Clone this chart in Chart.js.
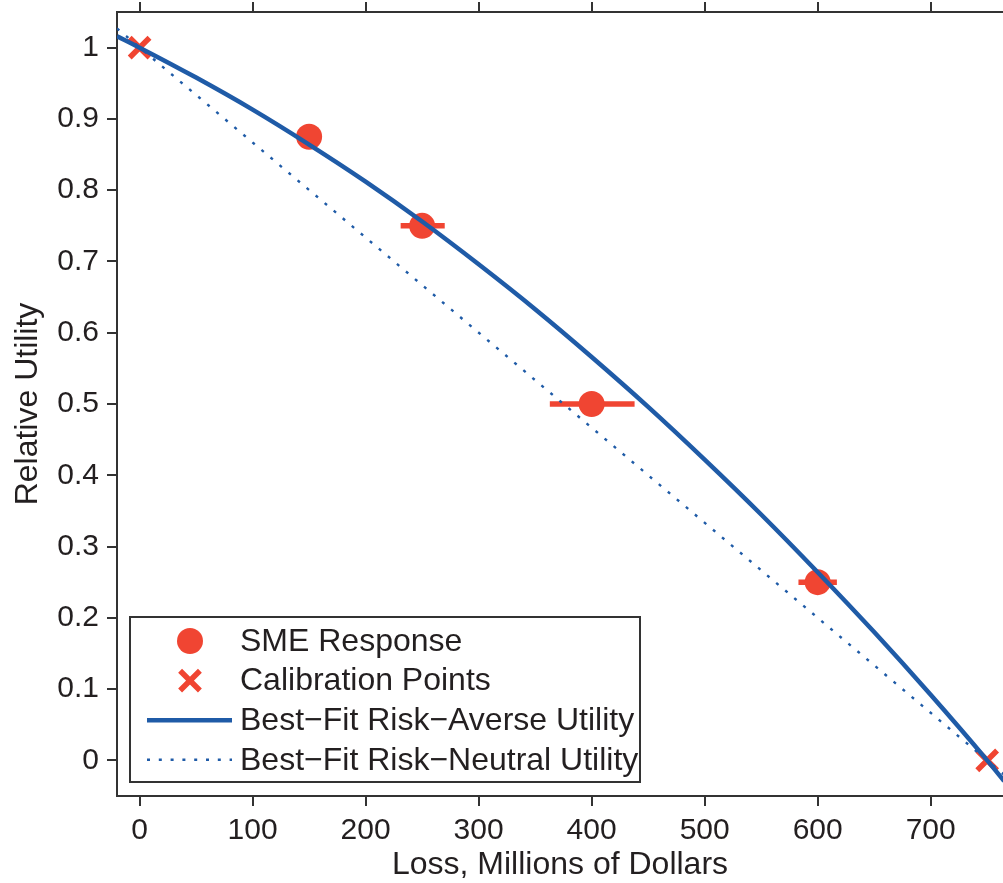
<!DOCTYPE html>
<html>
<head>
<meta charset="utf-8">
<script src="https://cdn.jsdelivr.net/npm/chart.js@4/dist/chart.umd.min.js"></script>
<style>
  html, body { margin: 0; padding: 0; background: #fff; }
  canvas { display: block; }
</style>
</head>
<body>
<canvas id="chart" width="1003" height="883"></canvas>
<script>
// values
const smeX = [150, 250, 400, 600];
const smeY = [0.875, 0.75, 0.5, 0.25];
const smeLow = [143, 231, 363, 583];
const smeHigh = [157, 270, 438, 617];

const calX = [0, 750];
const calY = [1, 0];

const averseX = [-20, 0, 50, 100, 150, 200, 250, 300, 350, 400, 450, 500, 550, 600, 650, 700, 750, 765];
const averseY = [1.016, 1.0, 0.958, 0.913, 0.864, 0.812, 0.756, 0.696, 0.633, 0.566, 0.496, 0.422, 0.345, 0.264, 0.18, 0.092, 0.0, -0.029];

const neutralX = [-20, 765];
const neutralY = [1.027, -0.02];

const xTicks = [0, 100, 200, 300, 400, 500, 600, 700];
const xTickLabels = ['0', '100', '200', '300', '400', '500', '600', '700'];
const yTicks = [0, 0.1, 0.2, 0.3, 0.4, 0.5, 0.6, 0.7, 0.8, 0.9, 1];
const yTickLabels = ['0', '0.1', '0.2', '0.3', '0.4', '0.5', '0.6', '0.7', '0.8', '0.9', '1'];

const labels = ['SME Response', 'Calibration Points', 'Best\u2212Fit Risk\u2212Averse Utility', 'Best\u2212Fit Risk\u2212Neutral Utility'];

const RED = '#f04532';
const BLUE = '#1f5ba7';
const INK = '#231f20';
const AXIS = '#333333';
const FONT = "'Liberation Sans', Arial, Helvetica, sans-serif";

const pts = (xs, ys) => xs.map((x, i) => ({ x: x, y: ys[i] }));

// fixed axis boxes, no label overflow padding
const fixSize = (w, h) => s => {
  if (w !== null) s.width = w;
  if (h !== null) s.height = h;
  s.paddingLeft = s.paddingRight = s.paddingTop = s.paddingBottom = 0;
};

const errorBars = {
  id: 'errorBars',
  beforeDatasetsDraw(chart) {
    const ctx = chart.ctx;
    const xs = chart.scales.x, ys = chart.scales.y;
    ctx.save();
    ctx.strokeStyle = RED;
    ctx.lineWidth = 5.5;
    smeX.forEach((x, i) => {
      const py = ys.getPixelForValue(smeY[i]);
      ctx.beginPath();
      ctx.moveTo(xs.getPixelForValue(smeLow[i]), py);
      ctx.lineTo(xs.getPixelForValue(smeHigh[i]), py);
      ctx.stroke();
    });
    ctx.restore();
  }
};

const boxLegend = {
  id: 'boxLegend',
  afterDraw(chart) {
    const ctx = chart.ctx;
    const area = chart.chartArea;
    const left = area.left + 13, right = left + 510;
    const bottom = area.bottom - 14, top = bottom - 165;
    ctx.save();
    ctx.fillStyle = '#fff';
    ctx.fillRect(left, top, right - left, bottom - top);
    ctx.strokeStyle = AXIS;
    ctx.lineWidth = 2;
    ctx.strokeRect(left, top, right - left, bottom - top);
    chart.data.datasets.forEach((ds, i) => {
      const cy = top + 24 + i * 39.6;
      const cx = left + 60;
      if (ds.showLine) {
        ctx.save();
        ctx.strokeStyle = ds.borderColor;
        ctx.lineWidth = ds.borderWidth;
        ctx.setLineDash(ds.borderDash || []);
        ctx.beginPath();
        ctx.moveTo(left + 17, cy);
        ctx.lineTo(left + 102, cy);
        ctx.stroke();
        ctx.restore();
      } else {
        ctx.save();
        ctx.fillStyle = ds.backgroundColor;
        ctx.strokeStyle = ds.borderColor;
        ctx.lineWidth = ds.pointBorderWidth;
        Chart.helpers.drawPoint(ctx, { pointStyle: ds.pointStyle, radius: ds.pointRadius, borderWidth: ds.pointBorderWidth, rotation: 0 }, cx, cy);
        ctx.restore();
      }
      ctx.fillStyle = INK;
      ctx.font = '32px ' + FONT;
      ctx.textBaseline = 'middle';
      ctx.textAlign = 'left';
      ctx.fillText(ds.label, left + 110, cy + 1);
    });
    ctx.restore();
  }
};

new Chart(document.getElementById('chart'), {
  type: 'scatter',
  data: {
    datasets: [
      {
        label: labels[0], data: pts(smeX, smeY), order: 3,
        pointStyle: 'circle', pointRadius: 13, pointBorderWidth: 0,
        backgroundColor: RED, borderColor: RED
      },
      {
        label: labels[1], data: pts(calX, calY), order: 2,
        pointStyle: 'crossRot', pointRadius: 14, pointBorderWidth: 5.5,
        backgroundColor: RED, borderColor: RED
      },
      {
        label: labels[2], data: pts(averseX, averseY), order: 0,
        showLine: true, pointRadius: 0, borderColor: BLUE, borderWidth: 4.5,
        cubicInterpolationMode: 'monotone'
      },
      {
        label: labels[3], data: pts(neutralX, neutralY), order: 1,
        showLine: true, pointRadius: 0, borderColor: BLUE, borderWidth: 2.4,
        borderDash: [3, 8.8]
      }
    ]
  },
  options: {
    responsive: false,
    animation: false,
    events: [],
    devicePixelRatio: 1,
    layout: { padding: 0, autoPadding: false },
    plugins: { legend: { display: false }, tooltip: { enabled: false } },
    scales: {
      x: {
        type: 'linear', position: 'bottom', min: -20, max: 764,
        afterBuildTicks: s => { s.ticks = xTicks.map(v => ({ value: v })); },
        afterFit: fixSize(null, 87),
        ticks: { callback: (v, i) => xTickLabels[i], font: { family: FONT, size: 30 }, color: INK, padding: 7, maxRotation: 0 },
        grid: { drawOnChartArea: false, color: AXIS, lineWidth: 2, tickLength: 10 },
        border: { display: true, color: AXIS, width: 2 },
        title: { display: true, text: 'Loss, Millions of Dollars', font: { family: FONT, size: 32, lineHeight: 1.1 }, color: INK, padding: 0 }
      },
      x2: {
        type: 'linear', position: 'top', min: -20, max: 764,
        afterBuildTicks: s => { s.ticks = xTicks.map(v => ({ value: v })); },
        afterFit: fixSize(null, 12),
        ticks: { display: false },
        grid: { drawOnChartArea: false, color: AXIS, lineWidth: 2, tickLength: 10 },
        border: { display: true, color: AXIS, width: 2 }
      },
      y: {
        type: 'linear', position: 'left', min: -0.05, max: 1.05,
        afterBuildTicks: s => { s.ticks = yTicks.map(v => ({ value: v })); },
        afterFit: fixSize(117, null),
        ticks: { callback: (v, i) => yTickLabels[i], font: { family: FONT, size: 30 }, color: INK, padding: 8 },
        grid: { drawOnChartArea: false, color: AXIS, lineWidth: 2, tickLength: 10 },
        border: { display: true, color: AXIS, width: 2 },
        title: { display: true, text: 'Relative Utility', font: { family: FONT, size: 32, lineHeight: 1.1 }, color: INK, padding: { top: 11, bottom: 0 } }
      }
    }
  },
  plugins: [errorBars, boxLegend]
});
</script>
</body>
</html>
